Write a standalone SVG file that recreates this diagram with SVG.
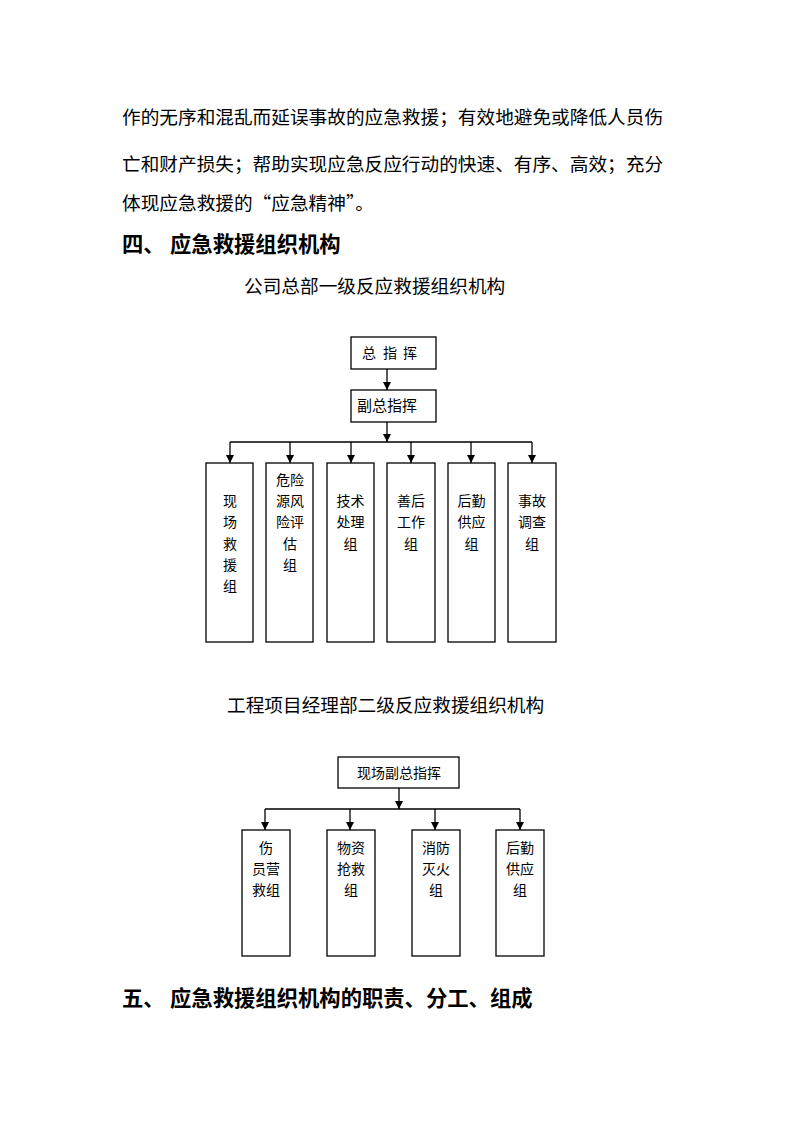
<svg xmlns="http://www.w3.org/2000/svg" width="800" height="1132" viewBox="0 0 800 1132">
<style>
.body{font-family:"Noto Sans CJK SC","Noto Sans CJK JP",sans-serif;font-size:18.67px;fill:#000}
.head{font-family:"Noto Sans CJK SC","Noto Sans CJK JP",sans-serif;font-size:21.33px;font-weight:bold;fill:#000}
.lbl{font-family:"Noto Sans CJK SC","Noto Sans CJK JP",sans-serif;font-size:14px;fill:#000;text-anchor:middle}
.box{fill:#fff;stroke:#000;stroke-width:1.3}
.ln{fill:none;stroke:#000;stroke-width:1.3}
</style>
<defs>
<marker id="ah" viewBox="0 0 10 10" refX="10" refY="5" markerWidth="9" markerHeight="8" markerUnits="userSpaceOnUse" orient="auto">
<path d="M0,0 L10,5 L0,10 z" fill="#000"/>
</marker>
</defs>
<rect width="800" height="1132" fill="#fff"/>
<g id="text">
<text class="body" x="122" y="124">作的无序和混乱而延误事故的应急救援；有效地避免或降低人员伤</text>
<text class="body" x="122" y="171">亡和财产损失；帮助实现应急反应行动的快速、有序、高效；充分</text>
<text class="body" x="122" y="210">体现应急救援的“应急精神”。</text>
<text class="head" x="122" y="252">四、<tspan x="170">应急救援组织机构</tspan></text>
<text class="body" x="244" y="293">公司总部一级反应救援组织机构</text>
<text class="body" x="227" y="712">工程项目经理部二级反应救援组织机构</text>
<text class="head" x="122" y="1006">五、<tspan x="170">应急救援组织机构的职责、分工、组成</tspan></text>
</g>
<g id="connectors">
<line class="ln" x1="387" y1="369" x2="387" y2="390" marker-end="url(#ah)"/>
<line class="ln" x1="387" y1="422" x2="387" y2="442" marker-end="url(#ah)"/>
<line class="ln" x1="230" y1="442" x2="532" y2="442"/>
<line class="ln" x1="230" y1="442" x2="230" y2="463" marker-end="url(#ah)"/>
<line class="ln" x1="290" y1="442" x2="290" y2="463" marker-end="url(#ah)"/>
<line class="ln" x1="351" y1="442" x2="351" y2="463" marker-end="url(#ah)"/>
<line class="ln" x1="411" y1="442" x2="411" y2="463" marker-end="url(#ah)"/>
<line class="ln" x1="471" y1="442" x2="471" y2="463" marker-end="url(#ah)"/>
<line class="ln" x1="532" y1="442" x2="532" y2="463" marker-end="url(#ah)"/>
<line class="ln" x1="399" y1="788" x2="399" y2="809" marker-end="url(#ah)"/>
<line class="ln" x1="265" y1="809" x2="520" y2="809"/>
<line class="ln" x1="265" y1="809" x2="265" y2="830" marker-end="url(#ah)"/>
<line class="ln" x1="350" y1="809" x2="350" y2="830" marker-end="url(#ah)"/>
<line class="ln" x1="435" y1="809" x2="435" y2="830" marker-end="url(#ah)"/>
<line class="ln" x1="520" y1="809" x2="520" y2="830" marker-end="url(#ah)"/>
</g>
<g id="n-zzh">
<rect class="box" x="351" y="337" width="85" height="32"/>
<text class="lbl" y="358"><tspan x="369">总</tspan><tspan x="390">指</tspan><tspan x="410">挥</tspan></text>
</g>
<g id="n-fzzh">
<rect class="box" x="351" y="390" width="85" height="32"/>
<text class="lbl" x="387" y="411" style="font-size:15px">副总指挥</text>
</g>
<g id="n-xcjy">
<rect class="box" x="206" y="463" width="47" height="179"/>
<text class="lbl"><tspan x="230" y="506">现</tspan><tspan x="230" y="527">场</tspan><tspan x="230" y="548.5">救</tspan><tspan x="230" y="570">援</tspan><tspan x="230" y="591">组</tspan></text>
</g>
<g id="n-wxy">
<rect class="box" x="266" y="463" width="47" height="179"/>
<text class="lbl"><tspan x="290" y="485">危险</tspan><tspan x="290" y="506">源风</tspan><tspan x="290" y="527">险评</tspan><tspan x="290" y="548.5">估</tspan><tspan x="290" y="570">组</tspan></text>
</g>
<g id="n-jscl">
<rect class="box" x="327" y="463" width="47" height="179"/>
<text class="lbl"><tspan x="350.5" y="506">技术</tspan><tspan x="350.5" y="527">处理</tspan><tspan x="350.5" y="548.5">组</tspan></text>
</g>
<g id="n-shgz">
<rect class="box" x="387" y="463" width="48" height="179"/>
<text class="lbl"><tspan x="411" y="506">善后</tspan><tspan x="411" y="527">工作</tspan><tspan x="411" y="548.5">组</tspan></text>
</g>
<g id="n-hqgy">
<rect class="box" x="448" y="463" width="47" height="179"/>
<text class="lbl"><tspan x="471.5" y="506">后勤</tspan><tspan x="471.5" y="527">供应</tspan><tspan x="471.5" y="548.5">组</tspan></text>
</g>
<g id="n-sgdc">
<rect class="box" x="508" y="463" width="48" height="179"/>
<text class="lbl"><tspan x="532" y="506">事故</tspan><tspan x="532" y="527">调查</tspan><tspan x="532" y="548.5">组</tspan></text>
</g>
<g id="n-xcfzzh">
<rect class="box" x="338" y="757" width="121" height="31"/>
<text class="lbl" x="399" y="778">现场副总指挥</text>
</g>
<g id="n-sy">
<rect class="box" x="242" y="830" width="48" height="126"/>
<text class="lbl"><tspan x="266" y="853">伤</tspan><tspan x="266" y="874">员营</tspan><tspan x="266" y="895">救组</tspan></text>
</g>
<g id="n-wz">
<rect class="box" x="327" y="830" width="48" height="126"/>
<text class="lbl"><tspan x="351" y="853">物资</tspan><tspan x="351" y="874">抢救</tspan><tspan x="351" y="895">组</tspan></text>
</g>
<g id="n-xf">
<rect class="box" x="412" y="830" width="48" height="126"/>
<text class="lbl"><tspan x="436" y="853">消防</tspan><tspan x="436" y="874">灭火</tspan><tspan x="436" y="895">组</tspan></text>
</g>
<g id="n-hq">
<rect class="box" x="496" y="830" width="48" height="126"/>
<text class="lbl"><tspan x="520" y="853">后勤</tspan><tspan x="520" y="874">供应</tspan><tspan x="520" y="895">组</tspan></text>
</g>
</svg>
